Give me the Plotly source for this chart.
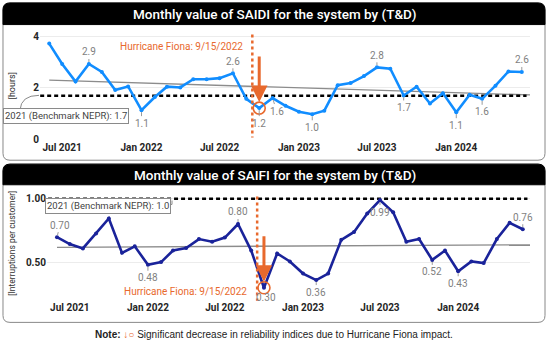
import plotly.graph_objects as go
import numpy as np
import pandas as pd

W, H = 550, 350

# ---------------- data ----------------
months = pd.date_range("2021-06-01", "2024-06-01", freq="MS")
saidi = [3.72, 2.93, 2.25, 2.93, 2.62, 1.92, 2.06, 1.14, 1.65, 2.05, 2.02, 2.34, 2.34,
         2.38, 2.57, 1.58, 1.22, 1.61, 1.31, 1.08, 0.98, 1.12, 2.11, 2.19, 2.46, 2.80,
         2.75, 1.71, 2.05, 1.40, 1.80, 1.06, 1.74, 1.58, 2.09, 2.64, 2.62]
saifi = [0.70, 0.646, 0.612, 0.728, 0.846, 0.577, 0.628, 0.484, 0.505, 0.595, 0.615,
         0.685, 0.664, 0.697, 0.803, 0.595, 0.304, 0.572, 0.51, 0.415, 0.364, 0.415,
         0.679, 0.741, 0.885, 0.99, 0.895, 0.664, 0.685, 0.522, 0.595, 0.433, 0.51,
         0.497, 0.685, 0.812, 0.762]
saidi_benchmark = 1.7
saifi_benchmark = 1.0
hurricane_date = "2022-09-15"
impact_idx = 16  # Oct 2022

# labelled points: (index, dx px, dy px)
saidi_labels = [(3, 0, -12), (7, 0, 13), (14, 0, -12), (16, 0, 15), (17, 4, 13),
                (20, 0, 13), (25, 0, -12), (27, 0, 12), (31, 0, 13), (33, 0, 13),
                (36, 0, -12)]
saifi_labels = [(0, 3, -12), (7, 0, 13), (14, 0, -12), (20, 0, 12), (25, 0, 12),
                (29, 0, 12), (31, 0, 12), (36, 0, -12)]

title_top = "Monthly value of SAIDI for the system by (T&D)"
title_bot = "Monthly value of SAIFI for the system by (T&D)"

BLUE = "#118DFF"
NAVY = "#1A239A"
ORANGE = "#E8692D"
GRAY_LBL = "#7F7F7F"
FONT = "Roboto"


def pxx(x):
    return x / W


def pxy(y):
    return 1 - y / H


def P(x, y):
    return f"{pxx(x):.5f},{pxy(y):.5f}"


def rrect(x0, y0, x1, y1, r, bottom_round=True):
    s = f"M {P(x0 + r, y0)} L {P(x1 - r, y0)} Q {P(x1, y0)} {P(x1, y0 + r)} "
    if bottom_round:
        s += f"L {P(x1, y1 - r)} Q {P(x1, y1)} {P(x1 - r, y1)} L {P(x0 + r, y1)} Q {P(x0, y1)} {P(x0, y1 - r)} "
    else:
        s += f"L {P(x1, y1)} L {P(x0, y1)} "
    s += f"L {P(x0, y0 + r)} Q {P(x0, y0)} {P(x0 + r, y0)} Z"
    return s


def ptext(x, y, text, font, xanchor="center", **kw):
    d = dict(x=pxx(x), y=pxy(y), xref="paper", yref="paper", text=text, showarrow=False,
             xanchor=xanchor, yanchor="middle", font=font)
    d.update(kw)
    return d


fig = go.Figure()

# trend lines computed from data
t = (months - months[0]).days.values.astype(float)
t_end = (pd.Timestamp("2024-06-20") - months[0]).days
trend_x = [months[0], pd.Timestamp("2024-06-20")]
for vals, xa, ya in [(saidi, "x", "y"), (saifi, "x2", "y2")]:
    k, b = np.polyfit(t, vals, 1)
    fig.add_trace(go.Scatter(x=trend_x, y=[b, b + k * t_end], mode="lines",
                             line=dict(color="#8C8C8C", width=1.3),
                             xaxis=xa, yaxis=ya, hoverinfo="skip", showlegend=False))

# benchmark dashed
bx = [pd.Timestamp("2021-05-11"), pd.Timestamp("2024-06-12")]
fig.add_trace(go.Scatter(x=bx, y=[saidi_benchmark] * 2, mode="lines",
                         line=dict(color="black", width=2.6, dash="4px,3px"),
                         xaxis="x", yaxis="y", showlegend=False))
fig.add_trace(go.Scatter(x=bx, y=[saifi_benchmark] * 2, mode="lines",
                         line=dict(color="black", width=2.6, dash="4px,3px"),
                         xaxis="x2", yaxis="y2", showlegend=False))

# main series
fig.add_trace(go.Scatter(x=months, y=saidi, mode="lines+markers",
                         line=dict(color=BLUE, width=2.6), marker=dict(size=4, color=BLUE),
                         xaxis="x", yaxis="y", showlegend=False))
fig.add_trace(go.Scatter(x=months, y=saifi, mode="lines+markers",
                         line=dict(color=NAVY, width=2.6), marker=dict(size=4, color=NAVY),
                         xaxis="x2", yaxis="y2", showlegend=False))

# impact circles
fig.add_trace(go.Scatter(x=[months[impact_idx]], y=[saidi[impact_idx]], mode="markers",
                         marker=dict(symbol="circle-open", size=12, color=ORANGE, line=dict(width=1.6)),
                         xaxis="x", yaxis="y", showlegend=False))
fig.add_trace(go.Scatter(x=[months[impact_idx]], y=[saifi[impact_idx]], mode="markers",
                         marker=dict(symbol="circle-open", size=12, color=ORANGE, line=dict(width=1.6)),
                         xaxis="x2", yaxis="y2", showlegend=False))

ann = []
for idx, dx, dy in saidi_labels:
    ann.append(dict(x=months[idx], y=saidi[idx], xref="x", yref="y", text=f"{saidi[idx]:.1f}",
                    showarrow=True, ax=dx, ay=dy, arrowhead=0, arrowwidth=1, arrowcolor="#9A9A9A",
                    standoff=2, font=dict(family=FONT, size=10, color=GRAY_LBL)))
for idx, dx, dy in saifi_labels:
    ann.append(dict(x=months[idx], y=saifi[idx], xref="x2", yref="y2", text=f"{saifi[idx]:.2f}",
                    showarrow=True, ax=dx, ay=dy, arrowhead=0, arrowwidth=1, arrowcolor="#9A9A9A",
                    standoff=2, font=dict(family=FONT, size=10, color=GRAY_LBL)))
ann.append(dict(x=months[impact_idx], y=saifi[impact_idx], xref="x2", yref="y2",
                text=f"{saifi[impact_idx]:.2f}", showarrow=False, xshift=2, yshift=-10,
                xanchor="center", yanchor="middle",
                font=dict(family=FONT, size=10, color=GRAY_LBL)))

# orange arrows
ann.append(dict(x=months[impact_idx], y=saidi[impact_idx], xref="x", yref="y", text="",
                showarrow=True, ax=0, ay=-53, arrowhead=2, arrowsize=1.1, arrowwidth=3,
                arrowcolor=ORANGE, standoff=6))
ann.append(dict(x=months[impact_idx], y=saifi[impact_idx], xref="x2", yref="y2", text="",
                showarrow=True, ax=0, ay=-53, arrowhead=2, arrowsize=1.1, arrowwidth=3,
                arrowcolor=ORANGE, standoff=6))

# hurricane texts
ann.append(ptext(245, 47, "Hurricane Fiona: 9/15/2022", dict(family=FONT, size=10, color=ORANGE),
                 xanchor="right"))
ann.append(ptext(249, 297, "Hurricane Fiona: 9/15/2022", dict(family=FONT, size=10, color=ORANGE),
                 xanchor="right"))

# benchmark boxes
ann.append(ptext(66, 118, "2021 (Benchmark NEPR): 1.7", dict(family=FONT, size=9.5, color="#444"),
                 bordercolor="#8A8A8A", borderwidth=1, borderpad=1, bgcolor="white"))
ann.append(ptext(108, 210, "2021 (Benchmark NEPR): 1.0", dict(family=FONT, size=9.5, color="#444"),
                 bordercolor="#8A8A8A", borderwidth=1, borderpad=1, bgcolor="white"))

# titles
ann.append(ptext(275, 14.5, title_top, dict(family=FONT, size=13.5, color="white", weight=500)))
ann.append(ptext(275, 178, title_bot, dict(family=FONT, size=13.5, color="white", weight=500)))

# y axis titles
ann.append(ptext(12, 87, "[hours]", dict(family=FONT, size=9, color="#333"), textangle=-90))
ann.append(ptext(12, 248, "[Interruptions per customer]", dict(family=FONT, size=8.5, color="#333"),
                 textangle=-90))

# note
ann.append(ptext(274, 340,
                 "<b>Note:</b> <span style='color:#E8692D'><b>↓</b>○</span> Significant decrease in reliability indices due to Hurricane Fiona impact.",
                 dict(family="Liberation Sans", size=10, color="#222")))

shapes = [
    dict(type="path", xref="paper", yref="paper", path=rrect(3, 3, 545, 163, 7),
         line=dict(color="#888", width=1), fillcolor="rgba(0,0,0,0)", layer="below"),
    dict(type="path", xref="paper", yref="paper", path=rrect(3, 3, 545, 25, 7, bottom_round=False),
         line=dict(color="black", width=1), fillcolor="black", layer="below"),
    dict(type="path", xref="paper", yref="paper", path=rrect(3, 167, 545, 328, 7),
         line=dict(color="#888", width=1), fillcolor="rgba(0,0,0,0)", layer="below"),
    dict(type="path", xref="paper", yref="paper", path=rrect(3, 167, 545, 188, 7, bottom_round=False),
         line=dict(color="black", width=1), fillcolor="black", layer="below"),
    # hurricane dotted lines
    dict(type="line", xref="x", yref="paper", x0=hurricane_date, x1=hurricane_date,
         y0=pxy(35), y1=pxy(140), line=dict(color=ORANGE, width=2.5, dash="dot")),
    dict(type="line", xref="x2", yref="paper", x0=hurricane_date, x1=hurricane_date,
         y0=pxy(200), y1=pxy(306), line=dict(color=ORANGE, width=2.5, dash="dot")),
    # connectors for benchmark boxes
    dict(type="path", xref="paper", yref="paper", path=f"M {P(20, 112)} Q {P(21, 97)} {P(39, 97)}",
         line=dict(color="#8A8A8A", width=1)),
    dict(type="path", xref="paper", yref="paper", path=f"M {P(168, 208)} L {P(172, 208)} L {P(172, 204)}",
         line=dict(color="#8A8A8A", width=1)),
]

tickfont = dict(family=FONT, size=10, color="#252525", weight="bold")
fig.update_layout(
    width=W, height=H, margin=dict(l=0, r=0, t=0, b=0),
    paper_bgcolor="white", plot_bgcolor="rgba(0,0,0,0)",
    xaxis=dict(domain=[pxx(40), pxx(530)], range=["2021-05-10 14:00", "2024-06-20"],
               type="date", tick0="2021-07-01", dtick="M6", tickformat="%b %Y",
               showgrid=False, zeroline=False, showline=False, ticks="", tickfont=tickfont),
    yaxis=dict(domain=[pxy(142), pxy(30)], range=[0, 4.267], tickvals=[0, 2, 4],
               showgrid=True, gridcolor="#ECECEC", zeroline=False, ticks="", tickfont=tickfont,
               anchor="x"),
    xaxis2=dict(domain=[pxx(47), pxx(530)], range=["2021-05-08 12:00", "2024-06-18"],
                type="date", tick0="2021-07-01", dtick="M6", tickformat="%b %Y",
                showgrid=False, zeroline=False, showline=False, ticks="", tickfont=tickfont,
                anchor="y2"),
    yaxis2=dict(domain=[pxy(305), pxy(195)], range=[0.21, 1.056], tickvals=[0.5, 1.0],
                tickformat=".2f", showgrid=True, gridcolor="#ECECEC", zeroline=False, ticks="",
                tickfont=tickfont, anchor="x2"),
    annotations=ann, shapes=shapes,
)

fig.write_html("out.html", config={"displayModeBar": False},
               post_script="document.body.style.margin='0';document.body.style.overflow='hidden';")
